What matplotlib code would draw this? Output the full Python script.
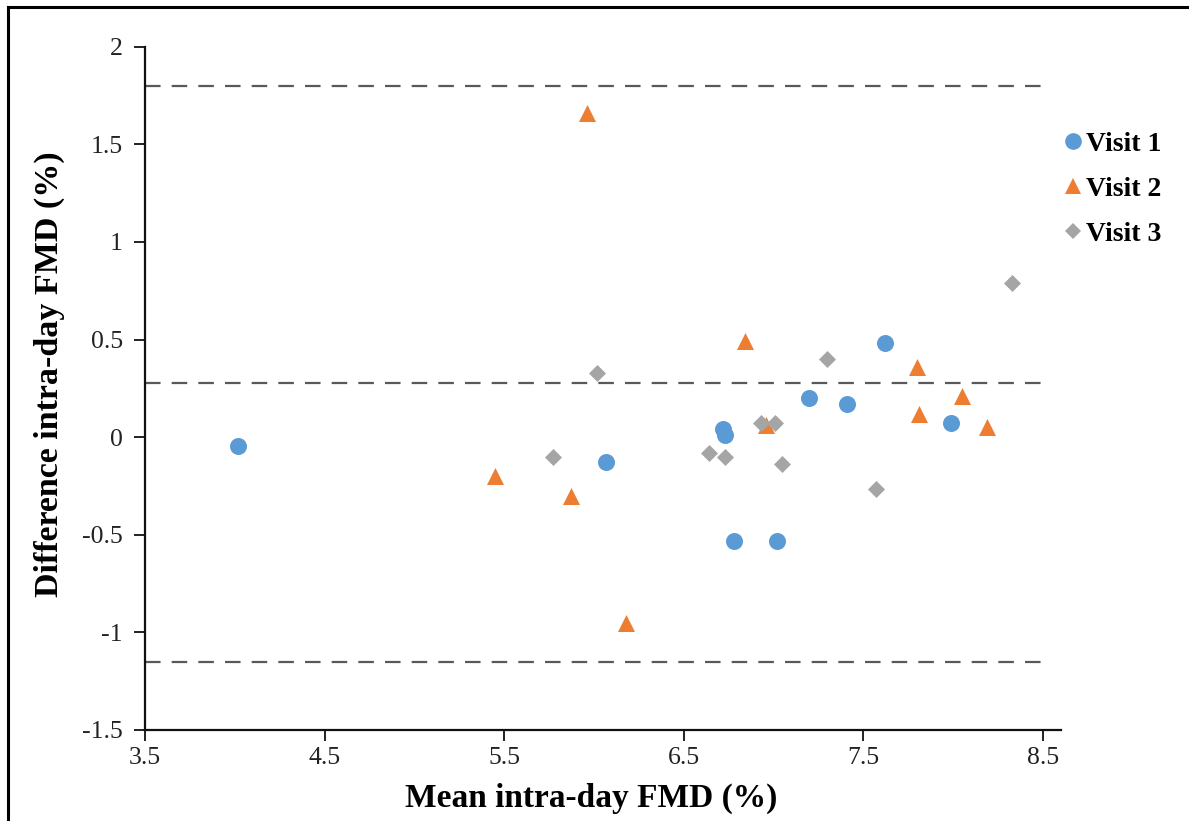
import matplotlib
matplotlib.use("Agg")
import matplotlib.pyplot as plt
from matplotlib.lines import Line2D

plt.rcParams['font.family'] = ['Liberation Serif', 'DejaVu Serif']

# data
v1_x = [4.02, 6.07, 6.72, 6.73, 6.78, 7.02, 7.20, 7.41, 7.62, 7.99]
v1_y = [-0.045, -0.125, 0.04, 0.01, -0.53, -0.53, 0.20, 0.17, 0.48, 0.07]

v2_x = [5.96, 5.45, 5.87, 6.18, 6.84, 6.96, 7.80, 7.81, 8.05, 8.19]
v2_y = [1.66, -0.20, -0.30, -0.95, 0.49, 0.06, 0.36, 0.12, 0.21, 0.05]

v3_x = [5.77, 6.02, 6.64, 6.73, 6.93, 7.01, 7.05, 7.30, 7.57, 8.33]
v3_y = [-0.10, 0.33, -0.08, -0.10, 0.07, 0.07, -0.14, 0.40, -0.265, 0.79]

limits = [1.80, 0.278, -1.152]   # upper LoA, mean bias, lower LoA

x_ticks = [3.5, 4.5, 5.5, 6.5, 7.5, 8.5]
y_ticks = [-1.5, -1, -0.5, 0, 0.5, 1, 1.5, 2]
y_labels = ['-1.5', '-1', '-0.5', '0', '0.5', '1', '1.5', '2']

blue = '#5B9BD5'
orange = '#ED7D31'
gray = '#A5A5A5'

fig = plt.figure(figsize=(11.89, 8.21), dpi=100)
ax = fig.add_axes([0.122, 0.111, 0.770, 0.832])

for yv in limits:
    ax.plot([3.5, 8.5], [yv, yv], color='#595959', lw=1.6, dashes=(7, 5), zorder=1)

ax.scatter(v1_x, v1_y, marker='o', s=150, color=blue, lw=0, zorder=3)
ax.scatter(v2_x, v2_y, marker='^', s=150, color=orange, lw=0, zorder=3)
ax.scatter(v3_x, v3_y, marker='D', s=75, color=gray, lw=0, zorder=3)

ax.set_xlim(3.5, 8.6)
ax.set_ylim(-1.5, 2)
ax.set_xticks(x_ticks)
ax.set_xticklabels([str(t) for t in x_ticks])
ax.set_yticks(y_ticks)
ax.set_yticklabels(y_labels)

for s in ['top', 'right']:
    ax.spines[s].set_visible(False)
for s in ['left', 'bottom']:
    ax.spines[s].set_linewidth(1.6)
    ax.spines[s].set_color('#111111')

ax.tick_params(axis='both', direction='out', length=8, width=1.3,
               labelsize=18.5, labelcolor='#222222', color='#111111')
ax.tick_params(axis='x', pad=4)
ax.tick_params(axis='y', pad=8)

ax.set_xlabel('Mean intra-day FMD (%)', fontsize=24, fontweight='bold', labelpad=10)
ax.set_ylabel('Difference intra-day FMD (%)', fontsize=24.5, fontweight='bold', labelpad=12)
ax.xaxis.label.set_x(0.487)
ax.yaxis.label.set_y(0.52)

handles = [
    Line2D([], [], marker='o', ls='', color=blue, markersize=12, mew=0),
    Line2D([], [], marker='^', ls='', color=orange, markersize=12, mew=0),
    Line2D([], [], marker='D', ls='', color=gray, markersize=8.5, mew=0),
]
fig.legend(handles, ['Visit 1', 'Visit 2', 'Visit 3'], loc='upper left',
           bbox_to_anchor=(0.867, 0.87), frameon=False,
           prop={'family': 'Liberation Serif', 'weight': 'bold', 'size': 20},
           handletextpad=-0.1, labelspacing=0.7, handlelength=1.2)

# outer frame (top and left edges visible in reference)
fig.add_artist(Line2D([0.007, 1.0], [0.9915, 0.9915], transform=fig.transFigure,
                      color='black', lw=2.2))
fig.add_artist(Line2D([0.007, 0.007], [0.0, 0.9915], transform=fig.transFigure,
                      color='black', lw=2.2))

fig.savefig('out.png', dpi=100)
